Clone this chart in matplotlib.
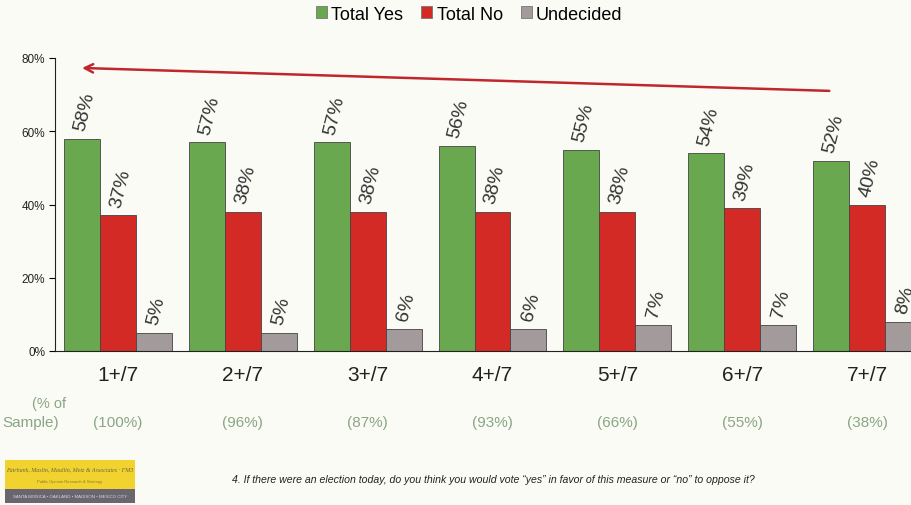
import matplotlib
matplotlib.use("Agg")
import matplotlib.pyplot as plt
from matplotlib.patches import Rectangle
import numpy as np

plt.rcParams["font.family"] = ["Liberation Sans", "DejaVu Sans"]

categories = ["1+/7", "2+/7", "3+/7", "4+/7", "5+/7", "6+/7", "7+/7"]
total_yes = [58, 57, 57, 56, 55, 54, 52]
total_no = [37, 38, 38, 38, 38, 39, 40]
undecided = [5, 5, 6, 6, 7, 7, 8]
sample_pct = ["(100%)", "(96%)", "(87%)", "(93%)", "(66%)", "(55%)", "(38%)"]
series_names = ["Total Yes", "Total No", "Undecided"]
yticks = [0, 20, 40, 60, 80]

colors = ["#6aa84f", "#d42a25", "#a39a9c"]
bg = "#fbfbf6"

W, H = 911, 506
fig = plt.figure(figsize=(W / 100, H / 100), dpi=100, facecolor=bg)

ax_left = 55 / W
ax_w = (W - 55) / W
ax_bot = (H - 352) / H
ax_h = (352 - 59) / H
ax = fig.add_axes([ax_left, ax_bot, ax_w, ax_h])
ax.set_facecolor(bg)

spacing = 125.0
bw = 36 / spacing
x = np.arange(len(categories))
xl = -(118 - 55) / spacing
xr = 6 + (911 - (813 + 54)) / spacing
ax.set_xlim(xl, xr)
ax.set_ylim(0, 80)

series = [total_yes, total_no, undecided]
for k, (vals, col) in enumerate(zip(series, colors)):
    pos = x + (k - 1) * bw
    ax.bar(pos, vals, width=bw, color=col, edgecolor="#444444", linewidth=0.6,
           label=series_names[k], zorder=2)
    for p, v in zip(pos, vals):
        ax.text(p + 0.02, v + 1.8, f"{v}%", rotation=76, ha="center", va="bottom",
                fontsize=14, color="#333333", clip_on=True)

for s in ["top", "right"]:
    ax.spines[s].set_visible(False)
ax.spines["left"].set_color("#222222")
ax.spines["bottom"].set_color("#222222")
ax.set_yticks(yticks)
ax.set_yticklabels([f"{t}%" for t in yticks], fontsize=8.5, color="#222222")
ax.tick_params(axis="y", length=4, direction="out", pad=3)
ax.set_xticks(x)
ax.set_xticklabels(categories, fontsize=15, color="#222222")
ax.tick_params(axis="x", length=0, pad=10)

# arrow
ax.annotate("", xy=(-0.31, 77.3), xytext=(5.72, 71.0),
            arrowprops=dict(arrowstyle="->,head_length=0.6,head_width=0.3",
                            color="#c0272d", lw=1.8), annotation_clip=False)

# sample row
sample_color = "#8aa585"
for xi, s in zip(x, sample_pct):
    xf = ax_left + (xi - xl) / (xr - xl) * ax_w
    fig.text(xf, 1 - 423 / H, s, ha="center", va="center", fontsize=11, color=sample_color)
fig.text(49 / W, 1 - 404 / H, "(% of", ha="center", va="center", fontsize=10.5, color=sample_color)
fig.text(2 / W, 1 - 423 / H, "Sample)", ha="left", va="center", fontsize=11, color=sample_color)

# legend
handles, labels = ax.get_legend_handles_labels()
leg = fig.legend(handles, labels, loc="center", bbox_to_anchor=(0.515, 1 - 15 / H), ncol=3,
                 frameon=False, fontsize=13, handlelength=0.6, handleheight=0.6,
                 handletextpad=0.25, columnspacing=1.0)
for h in leg.legend_handles:
    h.set_edgecolor("#777777")

# footer logo
fig.patches.append(Rectangle((5 / W, 1 - 490 / H), 130 / W, 29 / H, transform=fig.transFigure,
                             facecolor="#f2d22e", edgecolor="none"))
fig.patches.append(Rectangle((5 / W, 1 - 504 / H), 130 / W, 14 / H, transform=fig.transFigure,
                             facecolor="#6a6670", edgecolor="none"))
fig.text(70 / W, 1 - 470 / H, "Fairbank, Maslin, Maullin, Metz & Associates · FM3",
         ha="center", va="center", fontsize=4.3, style="italic", family="Liberation Serif",
         color="#6a6a40")
fig.text(70 / W, 1 - 482 / H, "Public Opinion Research & Strategy",
         ha="center", va="center", fontsize=3, color="#8a7a30")
fig.text(70 / W, 1 - 497 / H, "SANTA MONICA • OAKLAND • MADISON • MEXICO CITY",
         ha="center", va="center", fontsize=3.2, color="#d8d8d8")
fig.text(232 / W, 1 - 480 / H,
         "4. If there were an election today, do you think you would vote \u201cyes\u201d in favor of this measure or \u201cno\u201d to oppose it?",
         ha="left", va="center", fontsize=7.6, style="italic", color="#222222")

fig.savefig("out.png", dpi=100, facecolor=bg)
